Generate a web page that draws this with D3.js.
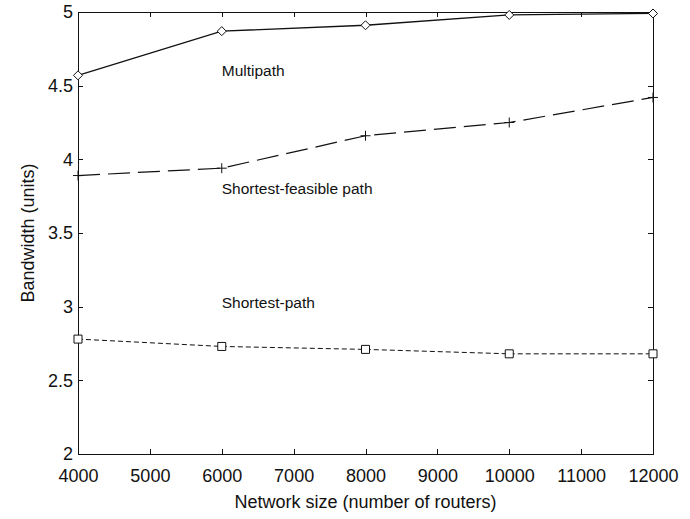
<!DOCTYPE html>
<html>
    <head>
        <meta charset="UTF-8" />
        <title>Bandwidth vs network size</title>
        <script src="https://d3js.org/d3.v7.min.js"></script>
        <style>
body {
    margin: 0px;
    background: white;
}
text {
    font-family: "Liberation Sans", Arial, sans-serif;
    fill: #111;
}
        </style>
    </head>
    <body>
        <svg id="chart" width="690" height="519"></svg>
<script>
// data
const networkSizes = [4000, 6000, 8000, 10000, 12000];
const multipath = [4.57, 4.87, 4.91, 4.98, 4.99];
const shortestFeasible = [3.89, 3.94, 4.16, 4.25, 4.42];
const shortestPath = [2.78, 2.73, 2.71, 2.68, 2.68];

const xTicks = [4000, 5000, 6000, 7000, 8000, 9000, 10000, 11000, 12000];
const yTicks = [2, 2.5, 3, 3.5, 4, 4.5, 5];

const labelNames = ["Multipath", "Shortest-feasible path", "Shortest-path"];
const labelX = [6000, 6000, 6000];
const labelY = [4.6, 3.8, 3.03];

let width = 690, height = 519;
let plotLeft = 78, plotRight = 653, plotTop = 12, plotBottom = 454;

let svg = d3.select("#chart");

let x = d3.scaleLinear().domain([4000, 12000]).range([plotLeft, plotRight]);
let y = d3.scaleLinear().domain([2, 5]).range([plotBottom, plotTop]);

// axes: ticks inward, mirrored on top/right
let tickLen = 5;
let g = svg.append("g");

g.append("g")
    .attr("transform", `translate(0,${plotBottom})`)
    .call(d3.axisBottom(x).tickValues(xTicks).tickSizeInner(-tickLen).tickSizeOuter(0).tickPadding(15).tickFormat(d3.format("d")))
    .call(a => a.select(".domain").remove())
    .selectAll("text").attr("font-size", 18).attr("font-family", "Liberation Sans, Arial, sans-serif");

g.append("g")
    .attr("transform", `translate(0,${plotTop})`)
    .call(d3.axisTop(x).tickValues(xTicks).tickSizeInner(-tickLen).tickSizeOuter(0).tickFormat(""))
    .call(a => a.select(".domain").remove());

g.append("g")
    .attr("transform", `translate(${plotLeft},0)`)
    .call(d3.axisLeft(y).tickValues(yTicks).tickSizeInner(-tickLen).tickSizeOuter(0).tickPadding(5).tickFormat(d3.format("")))
    .call(a => a.select(".domain").remove())
    .selectAll("text").attr("font-size", 18).attr("font-family", "Liberation Sans, Arial, sans-serif");

g.append("g")
    .attr("transform", `translate(${plotRight},0)`)
    .call(d3.axisRight(y).tickValues(yTicks).tickSizeInner(-tickLen).tickSizeOuter(0).tickFormat(""))
    .call(a => a.select(".domain").remove());

g.selectAll(".tick line").attr("stroke", "#111").attr("shape-rendering", "crispEdges");

// box
svg.append("rect")
    .attr("x", plotLeft).attr("y", plotTop)
    .attr("width", plotRight - plotLeft).attr("height", plotBottom - plotTop)
    .attr("fill", "none").attr("stroke", "#111").attr("stroke-width", 1)
    .attr("shape-rendering", "crispEdges");

// lines
let line = d3.line().x((d, i) => x(networkSizes[i])).y(d => y(d));

let series = [
    {values: multipath, dash: null, marker: "diamond", width: 1.3},
    {values: shortestFeasible, dash: "22,8", marker: "plus", width: 1.2},
    {values: shortestPath, dash: "5,3", marker: "square", width: 1}
];

for (let s of series) {
    svg.append("path")
        .attr("d", line(s.values))
        .attr("fill", "none")
        .attr("stroke", "#111")
        .attr("stroke-width", s.width)
        .attr("stroke-dasharray", s.dash);

    let m = svg.append("g").selectAll("path")
        .data(s.values)
        .join("path")
        .attr("transform", (d, i) => `translate(${x(networkSizes[i])},${y(d)})`)
        .attr("fill", "none")
        .attr("stroke", "#111")
        .attr("stroke-width", 1);

    if (s.marker == "diamond") {
        m.attr("d", "M0,-4.5L4.5,0L0,4.5L-4.5,0Z").attr("fill", "white");
    } else if (s.marker == "square") {
        m.attr("d", "M-4,-4H4V4H-4Z").attr("fill", "white");
    } else {
        m.attr("d", "M-5,0H5M0,-5V5");
    }
}

// annotations
svg.append("g").selectAll("text")
    .data(labelNames)
    .join("text")
    .attr("x", (d, i) => x(labelX[i]))
    .attr("y", (d, i) => y(labelY[i]))
    .attr("dy", "0.35em")
    .attr("font-size", 15.5)
    .text(d => d);

// axis titles
svg.append("text")
    .attr("x", (plotLeft + plotRight) / 2)
    .attr("y", 508)
    .attr("text-anchor", "middle")
    .attr("font-size", 18)
    .text("Network size (number of routers)");

svg.append("text")
    .attr("transform", `translate(34,${(plotTop + plotBottom) / 2}) rotate(-90)`)
    .attr("text-anchor", "middle")
    .attr("font-size", 18)
    .text("Bandwidth (units)");
</script>
    </body>
</html>
